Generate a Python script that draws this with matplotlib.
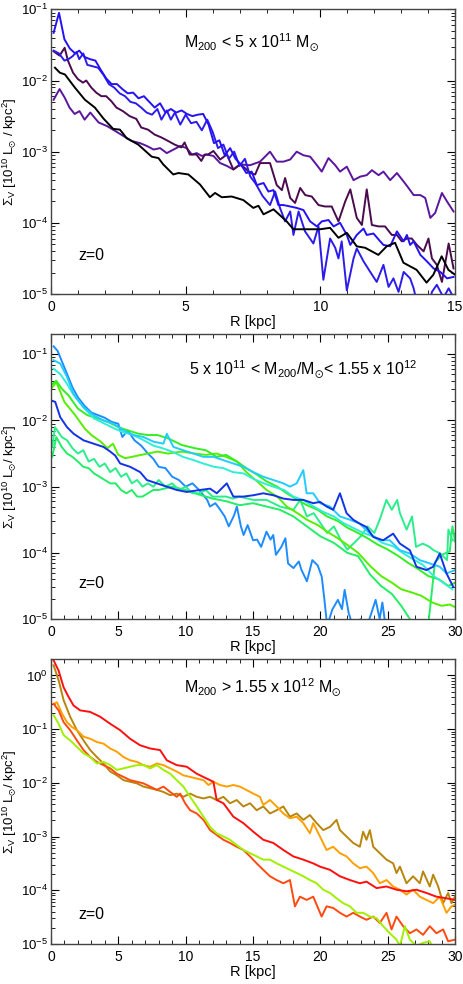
import matplotlib
matplotlib.use("Agg")
import matplotlib.pyplot as plt
import numpy as np
from matplotlib.ticker import MultipleLocator, LogLocator

plt.rcParams["font.family"] = ["Liberation Sans", "DejaVu Sans"]
plt.rcParams["mathtext.fontset"] = "custom"
plt.rcParams["mathtext.rm"] = "Liberation Sans"
plt.rcParams["mathtext.it"] = "Liberation Sans:italic"
plt.rcParams["mathtext.fallback"] = "stixsans"
plt.rcParams["axes.unicode_minus"] = False

# profiles as (R [kpc], log10 Sigma_V) read off the reference
# ---- panel 1: M200 < 5e11
p1_black = [(0.15, -1.82), (0.33, -1.89), (0.52, -1.915), (0.89, -2.10), (1.26, -2.27), (1.63, -2.38),
            (1.94, -2.53), (2.31, -2.68), (2.56, -2.69), (2.81, -2.81), (3.24, -2.90), (3.74, -3.07),
            (3.99, -3.09), (4.17, -3.18), (4.54, -3.32), (4.73, -3.30), (5.1, -3.32), (5.53, -3.46),
            (5.9, -3.64), (6.09, -3.58), (6.34, -3.64), (6.71, -3.63), (7.14, -3.68), (7.51, -3.79),
            (7.7, -3.76), (7.89, -3.88), (8.26, -3.81), (8.75, -3.98), (9.0, -4.09), (9.37, -4.09),
            (9.99, -4.09), (10.36, -4.07), (10.67, -4.21), (10.98, -4.14), (11.35, -4.33), (11.66, -4.35),
            (12.15, -4.45), (12.46, -4.33), (12.77, -4.28), (13.08, -4.56), (13.57, -4.66), (13.94, -4.84),
            (14.19, -4.73), (14.5, -4.47), (14.75, -4.66), (15.0, -4.73)]
p1_darkpurple = [(0.1, -1.59), (0.32, -1.65), (0.51, -1.54), (0.63, -1.72), (0.82, -1.89), (1.0, -1.98),
                 (1.19, -2.03), (1.31, -2.00), (1.5, -2.10), (1.68, -2.17), (1.87, -2.22), (2.05, -2.22),
                 (2.24, -2.29), (2.43, -2.38), (2.67, -2.43), (2.92, -2.50), (3.17, -2.54), (3.35, -2.66),
                 (3.6, -2.69), (3.85, -2.76), (4.1, -2.80), (4.35, -2.85), (4.59, -2.90), (4.84, -2.94),
                 (4.96, -2.87), (5.15, -3.04), (5.4, -3.04), (5.58, -3.13), (5.71, -3.04), (5.83, -3.04),
                 (6.03, -2.99), (6.28, -3.11), (6.53, -3.04), (6.77, -3.25), (7.02, -3.18), (7.2, -3.23),
                 (7.39, -3.30), (7.58, -3.32), (7.76, -3.16), (8.13, -3.16), (8.38, -3.47), (8.57, -3.54),
                 (8.69, -3.37), (8.88, -3.65), (9.06, -3.72), (9.25, -3.51), (9.44, -3.61), (9.68, -3.63),
                 (9.93, -3.75), (10.17, -3.77), (10.42, -3.77), (10.67, -3.98), (10.92, -3.70), (11.11, -3.53),
                 (11.35, -3.93), (11.54, -4.03), (11.72, -3.53), (11.91, -4.03), (12.16, -4.05), (12.40, -4.05),
                 (12.65, -4.17), (12.84, -4.17), (13.02, -4.26), (13.21, -4.22), (13.39, -4.22), (13.58, -4.31),
                 (13.83, -4.40), (14.01, -4.22), (14.14, -4.50), (14.32, -4.59), (14.51, -4.83), (14.76, -4.29),
                 (14.94, -4.64)]
p1_purple = [(0.1, -2.27), (0.32, -2.12), (0.51, -2.24), (0.69, -2.38), (0.88, -2.47), (1.06, -2.43),
             (1.25, -2.55), (1.46, -2.45), (1.77, -2.59), (2.08, -2.64), (2.39, -2.71), (2.69, -2.78),
             (3.0, -2.85), (3.31, -2.88), (3.56, -2.92), (3.81, -2.97), (4.05, -2.95), (4.30, -3.02),
             (4.55, -2.97), (4.80, -2.92), (5.04, -2.95), (5.23, -3.04), (5.41, -3.02), (5.6, -3.06),
             (5.78, -3.04), (6.03, -3.06), (6.28, -3.16), (6.53, -3.20), (6.77, -3.25), (7.02, -3.18),
             (7.39, -3.19), (7.76, -3.14), (8.13, -3.00), (8.38, -3.14), (8.63, -3.14), (8.88, -3.11),
             (9.12, -3.00), (9.37, -3.05), (9.62, -3.07), (9.87, -3.19), (10.05, -3.28), (10.30, -3.09),
             (10.55, -3.19), (10.73, -3.28), (10.98, -3.21), (11.23, -3.40), (11.48, -3.35), (11.72, -3.33),
             (11.91, -3.26), (12.16, -3.33), (12.34, -3.28), (12.59, -3.40), (12.84, -3.30), (13.09, -3.42),
             (13.27, -3.51), (13.46, -3.61), (13.71, -3.61), (13.89, -3.65), (14.08, -3.93), (14.26, -3.86),
             (14.51, -3.58), (14.70, -3.70), (14.94, -3.84)]
p1_blue_a = [(0.1, -1.33), (0.3, -1.05), (0.5, -1.42), (0.7, -1.55), (0.9, -1.62), (1.05, -1.58),
             (1.25, -1.67), (1.45, -1.70), (1.65, -1.72), (1.85, -1.85), (2.05, -1.97), (2.25, -2.05),
             (2.45, -2.05), (2.65, -2.12), (2.85, -2.18), (3.05, -2.17), (3.25, -2.25), (3.45, -2.22),
             (3.65, -2.30), (3.85, -2.38), (4.05, -2.32), (4.25, -2.45), (4.45, -2.40), (4.65, -2.45),
             (4.85, -2.42), (5.05, -2.47), (5.25, -2.50), (5.45, -2.48), (5.65, -2.47), (5.85, -2.62),
             (6.05, -2.88), (6.25, -2.84), (6.45, -3.05), (6.65, -2.95), (6.85, -3.10), (7.05, -3.18),
             (7.25, -3.30), (7.45, -3.28), (7.64, -3.47), (7.89, -3.44), (8.07, -3.56), (8.26, -3.54),
             (8.44, -3.75), (8.63, -3.75), (8.88, -3.77), (9.12, -3.79), (9.37, -3.82), (9.62, -3.98),
             (9.87, -4.05), (10.05, -3.98), (10.30, -3.96), (10.49, -4.05), (10.73, -4.00), (10.98, -4.17),
             (11.11, -4.31), (11.35, -4.17), (11.60, -4.08), (11.72, -4.17), (11.97, -4.15), (12.22, -4.26),
             (12.34, -4.31), (12.59, -4.33), (12.84, -4.12), (13.09, -4.26), (13.21, -4.17), (13.33, -4.31),
             (13.46, -4.26), (13.71, -4.45), (13.95, -4.54), (14.20, -4.64), (14.45, -4.69), (14.70, -4.78),
             (14.94, -4.76)]
p1_blue_b = [(0.1, -1.58), (0.3, -1.62), (0.5, -1.72), (0.65, -1.70), (0.8, -1.66), (0.95, -1.60),
             (1.05, -1.70), (1.2, -1.62), (1.35, -1.78), (1.55, -1.80), (1.75, -1.82), (1.95, -1.92),
             (2.15, -2.05), (2.35, -2.10), (2.55, -2.18), (2.75, -2.22), (2.95, -2.30), (3.15, -2.32),
             (3.35, -2.38), (3.55, -2.45), (3.75, -2.48), (3.95, -2.40), (4.1, -2.55), (4.3, -2.42),
             (4.45, -2.55), (4.6, -2.45), (4.8, -2.62), (5.0, -2.48), (5.2, -2.60), (5.4, -2.58),
             (5.6, -2.70), (5.8, -2.55), (6.0, -2.72), (6.2, -2.95), (6.4, -2.90), (6.6, -3.10),
             (6.8, -3.00), (7.0, -3.20), (7.2, -3.10), (7.4, -3.35), (7.6, -3.45), (7.85, -3.62),
             (8.13, -3.75), (8.32, -3.56), (8.50, -3.79), (8.69, -3.98), (8.88, -3.84), (9.0, -4.17),
             (9.19, -3.84), (9.43, -4.12), (9.74, -4.29), (9.93, -4.05), (10.11, -4.80), (10.36, -4.22),
             (10.55, -4.35), (10.67, -4.50), (10.79, -4.26), (10.98, -4.95), (11.23, -4.50), (11.35, -4.36),
             (11.6, -4.54), (11.85, -4.69), (12.09, -4.83), (12.34, -4.59), (12.53, -4.90), (12.71, -4.78),
             (12.9, -4.97), (13.09, -4.69), (13.33, -4.78), (13.46, -4.92), (13.6, -5.15), (13.8, -5.05),
             (14.0, -5.2), (14.14, -4.97), (14.32, -4.87), (14.57, -5.05), (14.76, -4.92), (14.94, -5.05)]

# ---- panel 2: 5e11 < M200 < 1.55e12
p2_azure = [(0.2, -0.88), (0.5, -0.95), (0.8, -1.10), (1.2, -1.30), (1.6, -1.50), (2.0, -1.65),
            (2.5, -1.78), (3.0, -1.88), (3.5, -1.92), (4.0, -1.96), (4.5, -2.02), (5.0, -2.05),
            (5.3, -2.25), (5.7, -2.15), (6.2, -2.30), (6.7, -2.38), (7.2, -2.50), (7.6, -2.58),
            (8.0, -2.70), (8.5, -2.72), (9.0, -2.85), (9.5, -2.90), (10.0, -3.0), (10.5, -2.95),
            (11.0, -3.05), (11.6, -3.20), (11.8, -3.30), (12.2, -3.25), (12.5, -3.33), (12.9, -3.45),
            (13.2, -3.60), (13.6, -3.43), (13.8, -3.30), (14.1, -3.60), (14.3, -3.73), (14.6, -3.58),
            (15.0, -3.81), (15.3, -3.80), (15.6, -3.91), (16.0, -3.68), (16.3, -3.80), (16.5, -3.73),
            (16.7, -4.03), (17.1, -3.91), (17.4, -3.78), (17.6, -4.16), (18.0, -4.23), (18.4, -4.13),
            (18.6, -4.26), (19.0, -4.43), (19.4, -4.11), (19.8, -4.19), (20.1, -4.36), (20.3, -4.71),
            (20.5, -5.1), (20.9, -4.85), (21.3, -4.71), (21.6, -4.85), (21.8, -4.56), (22.1, -4.91),
            (22.4, -5.1), (23.0, -5.0), (23.4, -5.15), (24.1, -4.71), (24.4, -5.0), (24.6, -4.75),
            (24.9, -5.2), (25.5, -5.3)]
p2_royal = [(0.07, -1.70), (0.32, -1.72), (0.69, -1.95), (1.19, -2.10), (1.68, -2.20), (2.42, -2.30),
            (3.16, -2.35), (3.90, -2.40), (4.40, -2.47), (4.77, -2.53), (5.14, -2.65), (5.88, -2.70),
            (6.62, -2.78), (7.12, -2.90), (7.86, -2.95), (8.60, -3.00), (9.34, -3.05), (10.08, -3.08),
            (11.07, -3.05), (11.81, -3.03), (12.31, -3.10), (13.05, -2.95), (13.54, -3.15), (14.28, -3.15),
            (15.02, -3.13), (15.76, -3.10), (16.51, -3.13), (17.25, -3.18), (17.99, -3.20), (18.73, -3.20),
            (19.47, -3.25), (19.97, -3.23), (20.46, -3.30), (20.95, -3.35), (21.45, -3.10), (21.94, -3.40),
            (22.44, -3.50), (22.93, -3.56), (23.42, -3.61), (23.92, -3.76), (24.66, -3.81), (25.40, -3.71),
            (25.90, -3.86), (26.64, -3.96), (27.13, -4.21), (27.87, -4.26), (28.37, -4.21), (28.86, -4.01),
            (29.36, -4.31), (29.85, -4.51)]
p2_sky = [(0.2, -1.09), (0.69, -1.14), (1.19, -1.34), (1.68, -1.60), (2.42, -1.80), (3.16, -1.92),
          (3.90, -2.00), (4.65, -2.05), (5.39, -2.15), (6.13, -2.22), (6.87, -2.25), (7.61, -2.32),
          (8.35, -2.35), (8.60, -2.20), (9.09, -2.40), (9.83, -2.45), (10.58, -2.50), (11.32, -2.55),
          (12.06, -2.55), (12.80, -2.60), (13.54, -2.65), (14.28, -2.70), (15.02, -2.78), (15.76, -2.85),
          (16.51, -2.90), (17.25, -2.95), (17.74, -3.00), (18.24, -2.95), (18.73, -2.75), (18.98, -3.10),
          (19.47, -3.10), (19.97, -3.25), (20.71, -3.30), (21.45, -3.45), (22.19, -3.50), (22.93, -3.56),
          (23.67, -3.71), (24.41, -3.81), (25.15, -3.81), (25.90, -3.96), (26.64, -4.01), (27.38, -4.11),
          (28.12, -4.16), (28.86, -4.21), (29.36, -4.31), (30.0, -4.26)]
p2_turquoise = [(0.2, -1.22), (0.7, -1.30), (1.2, -1.45), (1.7, -1.62), (2.4, -1.80), (3.2, -1.97),
                (4.0, -2.05), (4.7, -2.12), (5.4, -2.18), (6.1, -2.22), (6.9, -2.30), (7.6, -2.38),
                (8.3, -2.42), (9.1, -2.48), (9.8, -2.55), (10.6, -2.60), (11.3, -2.65), (12.1, -2.70),
                (12.8, -2.72), (13.5, -2.78), (14.3, -2.80), (15.0, -2.88), (15.8, -2.95), (16.5, -3.00),
                (17.3, -3.05), (18.0, -3.15), (18.7, -3.20), (19.5, -3.30), (20.2, -3.38), (21.0, -3.45),
                (21.7, -3.55), (22.4, -3.62), (23.2, -3.70), (23.9, -3.75), (24.6, -3.85), (25.4, -3.90),
                (26.1, -4.00), (26.9, -4.10), (27.6, -4.18), (28.4, -4.35), (29.1, -4.45), (29.8, -4.55)]
p2_spring_a = [(0.1, -2.40), (0.3, -2.10), (0.8, -2.25), (1.2, -2.30), (1.6, -2.42), (2.0, -2.50),
               (2.4, -2.45), (2.8, -2.62), (3.2, -2.58), (3.6, -2.70), (4.0, -2.65), (4.4, -2.78),
               (4.8, -2.72), (5.2, -2.85), (5.6, -2.80), (6.0, -2.95), (6.4, -2.90), (6.8, -3.0),
               (7.2, -2.95), (7.6, -3.0), (8.0, -2.90), (8.5, -3.0), (9.0, -2.95), (9.5, -3.05),
               (10.0, -3.0), (10.5, -3.10), (11.0, -3.10), (11.5, -3.05), (12.0, -3.15), (12.5, -3.15),
               (13.0, -3.15), (13.5, -3.18), (14.0, -3.15), (15.0, -3.20), (16.0, -3.20), (17.0, -3.30),
               (18.0, -3.35), (18.5, -3.20), (19.0, -3.45), (19.5, -3.40), (20.0, -3.55), (20.5, -3.70),
               (21.0, -3.60), (21.5, -3.80), (22.0, -3.95), (22.5, -3.85), (23.0, -3.75), (23.5, -3.60),
               (24.0, -3.70), (24.4, -3.50), (24.9, -3.20), (25.3, -3.35), (25.7, -3.20), (25.9, -3.40),
               (26.4, -3.65), (26.8, -3.45), (27.1, -3.91), (27.6, -3.86), (28.1, -3.91), (28.4, -3.96),
               (28.9, -4.01), (29.4, -4.11), (29.5, -3.65), (29.8, -3.81), (30.0, -3.81)]
p2_spring_b = [(0.1, -2.55), (0.4, -2.25), (0.8, -2.40), (1.2, -2.50), (1.6, -2.55), (2.0, -2.62),
               (2.4, -2.70), (2.8, -2.72), (3.2, -2.80), (3.6, -2.85), (4.0, -2.90), (4.4, -2.95),
               (4.8, -2.95), (5.2, -3.05), (5.6, -3.10), (6.0, -3.05), (6.4, -3.15), (6.8, -3.15),
               (7.2, -3.10), (7.6, -3.05), (8.0, -3.05), (9.0, -3.0), (10.0, -3.05), (11.0, -3.12),
               (12.0, -3.18), (13.0, -3.22), (14.0, -3.28), (15.0, -3.25), (16.0, -3.30), (17.0, -3.35),
               (18.0, -3.45), (19.0, -3.60), (20.0, -3.75), (21.0, -3.85), (22.0, -4.0), (22.8, -4.05),
               (23.7, -4.33), (24.5, -4.50), (25.3, -4.62), (26.0, -4.80), (26.8, -5.05), (27.5, -5.2),
               (28.0, -5.1), (28.5, -4.15), (29.0, -4.03), (29.6, -3.98), (29.8, -3.60), (30.0, -3.83)]
p2_green = [(0.1, -1.45), (0.4, -1.40), (0.8, -1.52), (1.3, -1.62), (2.0, -1.82), (2.7, -1.92),
            (3.5, -1.97), (4.2, -2.02), (5.0, -2.10), (5.7, -2.15), (6.5, -2.20), (7.2, -2.22),
            (7.9, -2.22), (8.7, -2.27), (9.7, -2.37), (10.7, -2.42), (11.5, -2.45), (12.3, -2.55),
            (13.0, -2.52), (13.8, -2.62), (14.5, -2.72), (15.3, -2.82), (16.0, -2.92), (16.8, -3.00),
            (17.5, -3.10), (18.3, -3.20), (19.0, -3.28), (19.8, -3.35), (20.5, -3.45), (21.3, -3.52),
            (22.0, -3.62), (22.8, -3.70), (23.5, -3.78), (24.3, -3.88), (25.0, -3.95), (25.8, -4.05),
            (26.5, -4.15), (27.3, -4.25), (28.0, -4.35), (28.8, -4.40), (29.5, -4.50), (30.0, -4.45)]
p2_lime = [(0.1, -1.50), (0.4, -1.42), (1.0, -1.72), (1.8, -1.92), (2.5, -2.12), (3.0, -2.22),
           (3.7, -2.32), (4.2, -2.42), (4.6, -2.35), (5.0, -2.52), (5.5, -2.57), (6.0, -2.55),
           (6.7, -2.52), (7.2, -2.50), (7.9, -2.47), (8.7, -2.50), (9.7, -2.47), (10.7, -2.50),
           (11.5, -2.52), (12.3, -2.50), (13.0, -2.55), (13.8, -2.62), (14.5, -2.78), (15.3, -2.92),
           (16.0, -3.05), (16.8, -3.15), (17.5, -3.30), (18.3, -3.40), (19.0, -3.50), (19.8, -3.58),
           (20.5, -3.68), (21.3, -3.78), (22.0, -3.88), (22.8, -4.00), (23.7, -4.20), (24.5, -4.35),
           (25.3, -4.45), (26.0, -4.55), (26.8, -4.60), (27.5, -4.65), (28.3, -4.75), (29.0, -4.80),
           (29.6, -4.78), (30.0, -4.82)]

# ---- panel 3: M200 > 1.55e12
p3_red = [(0.2, 0.28), (0.57, 0.09), (0.94, -0.22), (1.31, -0.40), (1.68, -0.56), (2.17, -0.65),
          (2.92, -0.68), (3.66, -0.77), (4.4, -0.90), (5.14, -1.02), (5.88, -1.18), (6.62, -1.30),
          (7.36, -1.36), (8.1, -1.39), (8.6, -1.58), (9.34, -1.67), (10.08, -1.70), (10.82, -1.83),
          (11.56, -1.92), (12.06, -1.98), (12.3, -2.32), (12.8, -2.38), (13.54, -2.63), (14.28, -2.75),
          (15.02, -2.91), (15.76, -3.06), (16.51, -3.12), (17.25, -3.25), (17.99, -3.37), (18.73, -3.43),
          (19.47, -3.50), (19.97, -3.56), (20.71, -3.62), (21.45, -3.74), (22.19, -3.81), (22.93, -3.87),
          (23.42, -3.84), (24.17, -3.96), (24.91, -3.93), (25.65, -3.99), (26.39, -4.02), (27.13, -3.99),
          (27.87, -4.05), (28.61, -4.12), (29.36, -4.15), (30.0, -4.18)]
p3_ochre = [(0.2, 0.19), (0.57, -0.09), (0.94, -0.46), (1.43, -0.77), (1.93, -1.02), (2.42, -1.21),
            (2.92, -1.39), (3.41, -1.52), (3.9, -1.64), (4.4, -1.79), (4.89, -1.86), (5.39, -1.95),
            (5.88, -1.98), (6.38, -2.01), (6.87, -2.07), (7.36, -2.10), (7.86, -2.13), (8.35, -2.17),
            (8.85, -2.23), (9.34, -2.20), (9.83, -2.26), (10.33, -2.20), (10.82, -2.26), (11.32, -2.29),
            (11.81, -2.26), (12.3, -2.32), (12.8, -2.26), (13.29, -2.38), (13.79, -2.32), (14.28, -2.44),
            (14.78, -2.38), (15.27, -2.51), (15.76, -2.44), (16.26, -2.57), (16.75, -2.51), (17.25, -2.44),
            (17.74, -2.63), (18.24, -2.57), (18.73, -2.69), (19.22, -2.60), (19.72, -2.75), (20.21, -2.88),
            (20.71, -2.82), (21.2, -2.69), (21.45, -2.88), (21.94, -3.0), (22.44, -3.12), (22.93, -3.19),
            (23.17, -2.91), (23.42, -3.06), (23.67, -2.88), (23.92, -3.19), (24.41, -3.31), (24.91, -3.43),
            (25.4, -3.50), (25.65, -3.68), (25.9, -3.56), (26.39, -3.87), (26.88, -3.74), (27.38, -3.87),
            (27.62, -3.65), (28.12, -3.93), (28.37, -3.71), (28.74, -3.93), (29.11, -4.24), (29.48, -4.05),
            (29.73, -4.24), (30.0, -4.11)]
p3_orange = [(0.2, -0.53), (0.45, -0.50), (0.82, -0.71), (1.19, -0.87), (1.56, -0.96), (1.93, -1.02),
             (2.42, -1.14), (2.92, -1.18), (3.41, -1.24), (3.9, -1.27), (4.4, -1.36), (4.89, -1.42),
             (5.39, -1.52), (5.88, -1.58), (6.38, -1.61), (6.87, -1.67), (7.36, -1.70), (7.86, -1.64),
             (8.35, -1.67), (8.85, -1.73), (9.34, -1.79), (9.83, -1.86), (10.33, -1.89), (10.82, -1.92),
             (11.32, -1.95), (11.69, -2.04), (12.06, -1.98), (12.55, -2.04), (13.05, -2.07), (13.54, -2.04),
             (14.03, -2.07), (15.02, -2.20), (15.51, -2.26), (15.76, -2.41), (16.26, -2.32), (16.75, -2.44),
             (17.25, -2.57), (17.74, -2.66), (18.24, -2.63), (18.73, -2.75), (19.22, -2.94), (19.47, -2.75),
             (19.97, -3.0), (20.46, -3.25), (20.95, -3.19), (21.45, -3.31), (21.94, -3.37), (22.44, -3.50),
             (22.93, -3.59), (23.42, -3.56), (23.92, -3.68), (24.41, -3.87), (24.91, -3.81), (25.4, -3.93),
             (25.9, -3.99), (26.39, -4.08), (26.88, -3.99), (27.38, -4.12), (27.87, -4.18), (28.37, -4.24),
             (28.86, -4.12), (29.36, -4.42), (29.73, -4.30), (30.0, -4.27)]
p3_redorange = [(0.2, -0.53), (0.57, -0.65), (0.94, -0.87), (1.43, -1.02), (1.93, -1.21), (2.42, -1.39),
                (2.92, -1.52), (3.41, -1.61), (3.9, -1.67), (4.4, -1.73), (4.89, -1.83), (5.39, -1.89),
                (5.88, -1.95), (6.38, -1.98), (6.87, -2.01), (7.36, -2.07), (7.86, -2.13), (8.35, -2.07),
                (8.85, -2.17), (9.34, -2.26), (9.59, -2.20), (9.96, -2.38), (10.33, -2.51), (10.82, -2.57),
                (11.32, -2.69), (11.81, -2.88), (12.3, -2.97), (12.8, -3.06), (13.29, -3.12), (13.79, -3.19),
                (14.28, -3.25), (14.78, -3.37), (15.27, -3.50), (15.76, -3.62), (16.26, -3.74), (16.75, -3.81),
                (17.25, -3.87), (17.74, -3.81), (18.11, -4.30), (18.48, -4.12), (18.98, -4.18), (19.47, -4.12),
                (20.09, -4.49), (20.46, -4.30), (20.95, -4.33), (21.45, -4.42), (21.94, -4.49), (22.44, -4.42),
                (22.93, -4.49), (23.42, -4.55), (23.92, -4.49), (24.41, -4.61), (24.91, -4.42), (25.28, -4.73),
                (25.65, -4.49), (26.14, -4.67), (26.64, -4.80), (27.13, -4.73), (27.62, -4.83), (28.12, -4.67),
                (28.61, -4.80), (29.11, -4.73), (29.48, -4.95), (30.0, -4.92)]
p3_lime = [(0.2, -0.74), (0.57, -0.90), (0.94, -1.11), (1.43, -1.21), (1.93, -1.33), (2.42, -1.45),
           (2.92, -1.52), (3.41, -1.64), (3.9, -1.61), (4.4, -1.67), (4.89, -1.76), (5.39, -1.73),
           (5.88, -1.70), (6.38, -1.67), (6.87, -1.67), (7.36, -1.73), (7.86, -1.67), (8.35, -1.76),
           (8.85, -1.83), (9.34, -1.95), (9.83, -2.07), (10.33, -2.26), (10.82, -2.44), (11.32, -2.63),
           (11.81, -2.82), (12.3, -2.94), (12.8, -3.0), (13.29, -3.06), (13.79, -3.16), (14.28, -3.25),
           (14.78, -3.31), (15.27, -3.37), (15.76, -3.43), (16.26, -3.43), (16.75, -3.50), (17.25, -3.56),
           (17.74, -3.62), (18.24, -3.68), (18.73, -3.74), (19.22, -3.81), (19.72, -3.87), (20.21, -3.99),
           (20.71, -4.05), (21.2, -4.15), (21.69, -4.24), (22.19, -4.30), (22.68, -4.42), (23.17, -4.42),
           (23.67, -4.49), (24.17, -4.52), (24.66, -4.67), (25.15, -4.80), (25.65, -4.92), (25.9, -5.04),
           (26.27, -4.67), (26.64, -4.92), (27.13, -5.04), (27.62, -4.98), (28.12, -4.95), (28.37, -5.10)]

panels = [
    {"series": [(p1_purple, "#5A169E"), (p1_darkpurple, "#4A0B4E"), (p1_blue_b, "#2C1CEC"),
                (p1_blue_a, "#2412F4"), (p1_black, "black")],
     "xmax": 15, "ymax": 1e-1,
     "label": r"M$_{200}$ < 5 x 10$^{11}$ M$_{\odot}$", "lpos": (0.497, 0.884),
     "ylabel": r"$\Sigma_{\rm V}$ [10$^{10}$ L$_{\odot}$ / kpc$^2$]", "zpos": 0.134},
    {"series": [(p2_azure, "#1E8CFF"), (p2_spring_b, "#22EE66"), (p2_spring_a, "#2AEE8C"),
                (p2_lime, "#55EE00"), (p2_green, "#33EE22"), (p2_turquoise, "#2EEED8"),
                (p2_sky, "#22CCFF"), (p2_royal, "#1432E6")],
     "xmax": 30, "ymax": 0.2,
     "label": r"5 x 10$^{11}$ < M$_{200}$/M$_{\odot}$< 1.55 x 10$^{12}$", "lpos": (0.624, 0.877),
     "ylabel": r"$\Sigma_{\rm V}$ [10$^{10}$ L$_{\odot}$/ kpc$^2$]", "zpos": 0.126},
    {"series": [(p3_ochre, "#B8860B"), (p3_orange, "#FFA000"), (p3_redorange, "#FF4A10"),
                (p3_lime, "#A0F000"), (p3_red, "#FF1010")],
     "xmax": 30, "ymax": 2.0,
     "label": r"M$_{200}$ > 1.55 x 10$^{12}$ M$_{\odot}$", "lpos": (0.523, 0.902),
     "ylabel": r"$\Sigma_{\rm V}$ [10$^{10}$ L$_{\odot}$/ kpc$^2$]", "zpos": 0.105},
]

fig = plt.figure(figsize=(4.63, 9.84), dpi=100)
bottoms = [0.7012, 0.3709, 0.0407]

for cfg, bot in zip(panels, bottoms):
    ax = fig.add_axes([0.110, bot, 0.873, 0.2893])
    for data, color in cfg["series"]:
        r, lg = np.array(data).T
        ax.plot(r, 10.0 ** lg, color=color, lw=1.4)

    ax.set_yscale("log")
    ax.set_xlim(0, cfg["xmax"])
    ax.set_ylim(1e-5, cfg["ymax"])
    ax.xaxis.set_major_locator(MultipleLocator(5))
    ax.xaxis.set_minor_locator(MultipleLocator(1))
    ax.yaxis.set_major_locator(LogLocator(base=10, numticks=12))
    ax.yaxis.set_minor_locator(LogLocator(base=10, subs=np.arange(2, 10), numticks=12))
    ax.tick_params(which="both", direction="in", top=True, right=True)
    ax.tick_params(axis="x", labelsize=10)
    ax.tick_params(axis="y", labelsize=9.5)
    ax.tick_params(which="major", length=6, width=0.8, pad=4)
    ax.tick_params(which="minor", length=3, width=0.6)
    ax.tick_params(axis="y", which="major", pad=2)
    for sp in ax.spines.values():
        sp.set_color("#444444")
        sp.set_linewidth(1.0)

    ax.set_xlabel("R [kpc]", fontsize=10.5, labelpad=1)
    ax.set_ylabel(cfg["ylabel"], fontsize=9.5)
    ax.yaxis.set_label_coords(-0.079, 0.5)
    ax.text(*cfg["lpos"], cfg["label"], transform=ax.transAxes, ha="center", va="center",
            fontsize=11.5)
    ax.text(0.067, cfg["zpos"], "z=0", transform=ax.transAxes, ha="left", va="center",
            fontsize=11.5)

fig.savefig("out.png", dpi=100)
